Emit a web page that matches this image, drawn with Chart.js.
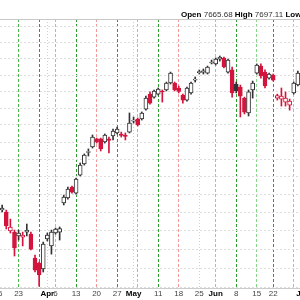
<!DOCTYPE html>
<html>
<head>
<meta charset="utf-8">
<script src="https://cdn.jsdelivr.net/npm/chart.js"></script>
<style>
  html, body { margin: 0; padding: 0; background: #fff; }
  #wrap { position: relative; width: 300px; height: 300px; overflow: hidden; }
  #box { position: absolute; left: -4px; top: 0; width: 308px; height: 300px; }
  #hdr { position: absolute; left: 181px; top: 10px; font: 8px/10px "Liberation Sans", Arial, sans-serif; color: #333; white-space: nowrap; }
  #hdr b { color: #000; }
</style>
</head>
<body>
<div id="wrap">
  <div id="box"><canvas id="chart"></canvas></div>
  <div id="hdr"><b>Open</b> 7665.68 <b>High</b> 7697.11 <b>Low</b></div>
</div>
<script>
// trading days shown (Mar 16 .. Jul 1)
const days = [
  'Mar 16', 'Mar 17', 'Mar 18', 'Mar 19', 'Mar 20',
  'Mar 23', 'Mar 24', 'Mar 25', 'Mar 26', 'Mar 27',
  'Mar 30', 'Mar 31', 'Apr 1', 'Apr 2',
  'Apr 6', 'Apr 7', 'Apr 8', 'Apr 9', 'Apr 10',
  'Apr 13', 'Apr 14', 'Apr 15', 'Apr 16', 'Apr 17',
  'Apr 20', 'Apr 21', 'Apr 22', 'Apr 23', 'Apr 24',
  'Apr 27', 'Apr 28', 'Apr 29', 'Apr 30', 'May 1',
  'May 4', 'May 5', 'May 6', 'May 7', 'May 8',
  'May 11', 'May 12', 'May 13', 'May 14', 'May 15',
  'May 18', 'May 19', 'May 20', 'May 21', 'May 22',
  'May 26', 'May 27', 'May 28', 'May 29',
  'Jun 1', 'Jun 2', 'Jun 3', 'Jun 4', 'Jun 5',
  'Jun 8', 'Jun 9', 'Jun 10', 'Jun 11', 'Jun 12',
  'Jun 15', 'Jun 16', 'Jun 17', 'Jun 18',
  'Jun 22', 'Jun 23', 'Jun 24', 'Jun 25', 'Jun 26',
  'Jun 29', 'Jun 30', 'Jul 1'
];

// text under the axis, one per day ('' = none)
const axisLabels = [
  '16', '', '', '', '',
  '23', '', '', '', '',
  '', '', 'Apr', '',
  '6', '', '', '', '',
  '13', '', '', '', '',
  '20', '', '', '', '',
  '27', '', '', '', 'May',
  '', '', '', '', '',
  '11', '', '', '', '',
  '18', '', '', '', '',
  '25', '', '', '',
  'Jun', '', '', '', '',
  '8', '', '', '', '',
  '15', '', '', '',
  '22', '', '', '', '',
  '', '', 'Jul'
];
const months = ['Apr', 'May', 'Jun', 'Jul'];

const open = [
  null, 7414, 7403, 7299, 7293,
  7272, 7266, 7293, 7282, 7153,
  7126, 7095, 7256, 7218,
  7288, 7293, 7453, 7481, 7542,
  7508, 7610, 7673, 7740, 7771,
  7818, 7818, 7800, 7818, 7835,
  7853, 7847, 7841, 7858, 7923,
  7935, 7935, 7994, 8084, 8066,
  8084, 8103, 8109, 8151, 8151,
  8121, 8078, 8048, 8091, 8169,
  8215, 8218, 8212, 8274,
  8268, 8298, 8305, 8218, 8231,
  8145, 8127, 8060, 7971, 8109,
  8212, 8255, 8218, 8181,
  8200, 8060, 8054, 8036, 8018,
  8091, 8139, null
];
const high = [
  null, 7442, 7414, 7364, 7304,
  7304, 7293, 7337, 7293, 7169,
  7132, 7239, 7288, 7304,
  7315, 7321, 7497, 7542, 7548,
  7593, 7679, 7731, 7760, 7841,
  7823, 7823, 7847, 7829, 7876,
  7888, 7858, 7853, 7971, 7947,
  7941, 7977, 8072, 8097, 8109,
  8121, 8109, 8157, 8218, 8157,
  8133, 8084, 8127, 8157, 8188,
  8231, 8237, 8255, 8292,
  8305, 8317, 8311, 8298, 8249,
  8157, 8139, 8066, 8109, 8163,
  8268, 8268, 8231, 8212,
  8206, 8084, 8121, 8097, 8054,
  8157, 8224, null
];
const low = [
  null, 7403, 7310, 7288, 7164,
  7250, 7218, 7272, 7196, 7079,
  7005, 7079, 7245, 7174,
  7282, 7250, 7442, 7475, 7508,
  7503, 7605, 7667, 7719, 7765,
  7794, 7748, 7794, 7737, 7812,
  7847, 7829, 7812, 7853, 7911,
  7894, 7929, 7988, 8024, 8060,
  8078, 8036, 8103, 8145, 8103,
  8091, 8030, 8042, 8084, 8157,
  8206, 8206, 8206, 8268,
  8261, 8286, 8243, 8212, 8066,
  8091, 7947, 7965, 7953, 8060,
  8206, 8181, 8121, 8175,
  8163, 8048, 8012, 8012, 7988,
  8084, 8133, null
];
const close = [
  null, 7425, 7326, 7321, 7207,
  7288, 7277, 7304, 7201, 7089,
  7063, 7228, 7277, 7293,
  7310, 7312, 7486, 7531, 7514,
  7588, 7667, 7725, 7745, 7829,
  7800, 7760, 7841, 7809, 7864,
  7876, 7838, 7832, 7911, 7929,
  7900, 7971, 8060, 8030, 8103,
  8115, 8097, 8151, 8212, 8109,
  8100, 8048, 8121, 8151, 8175,
  8221, 8225, 8249, 8280,
  8298, 8311, 8249, 8292, 8091,
  8103, 8072, 7976, 8097, 8151,
  8261, 8194, 8133, 8206,
  8169, 8075, 8072, 8060, 8042,
  8151, 8212, null
];

// horizontal price grid
const priceLines = [7000, 7100, 7200, 7300, 7400, 7500, 7600, 7700, 7800, 7900, 8000, 8100, 8200, 8300, 8400, 8500];

// coloured week separators (grey = month start)
const GREY = '#cfcfcf';
const weekLines = {
  'Mar 23': '#4cb84c', 'Mar 30': '#e23c3c', 'Apr 1': GREY, 'Apr 6': '#8ad68a',
  'Apr 13': '#2e9e2e', 'Apr 20': '#f59a9a', 'Apr 27': '#2e9e2e', 'May 1': GREY,
  'May 4': '#f59a9a', 'May 11': '#2e9e2e', 'May 18': '#f59a9a', 'May 26': GREY,
  'Jun 1': '#8ad68a', 'Jun 8': '#2e9e2e', 'Jun 15': '#8ad68a', 'Jun 22': '#e23c3c',
  'Jun 29': '#8ad68a'
};
const lineColors = days.map(d => weekLines[d] || 'rgba(255,255,255,0)');
const lineDash = days.map(d => (weekLines[d] === GREY ? [1, 2] : [3, 2]));

const RED = '#d3143c';
const INK = '#333333';

// black when close >= previous close, red otherwise; hollow when close >= open
const tone = close.map((c, i) => {
  if (c == null) return INK;
  const prev = i > 0 ? close[i - 1] : null;
  return (prev == null || c >= prev) ? INK : RED;
});
const fill = open.map((o, i) => (o == null ? INK : (close[i] >= o ? '#ffffff' : tone[i])));
const bodies = open.map((o, i) => (o == null ? null : [Math.min(o, close[i]), Math.max(o, close[i])]));
const wicks = low.map((l, i) => (l == null ? null : [l, high[i]]));

new Chart(document.getElementById('chart'), {
  type: 'bar',
  data: {
    labels: days,
    datasets: [
      {
        data: bodies,
        backgroundColor: fill,
        borderColor: tone,
        borderWidth: 1,
        borderSkipped: false,
        barThickness: 4,
        grouped: false
      },
      {
        data: wicks,
        backgroundColor: tone,
        borderWidth: 0,
        barThickness: 1,
        grouped: false
      }
    ]
  },
  options: {
    responsive: true,
    maintainAspectRatio: false,
    animation: false,
    layout: { padding: { top: 19, left: 0, right: 0, bottom: 0 } },
    plugins: { legend: { display: false }, tooltip: { enabled: false } },
    scales: {
      x: {
        offset: true,
        grid: {
          offset: false,
          drawTicks: false,
          lineWidth: 1,
          color: lineColors
        },
        border: { display: true, color: '#cccccc', dash: ctx => lineDash[ctx.index] || [] },
        ticks: {
          autoSkip: false,
          maxRotation: 0,
          padding: 1,
          callback: (v, i) => axisLabels[i],
          color: ctx => (months.includes(axisLabels[ctx.index]) ? '#000' : '#444'),
          font: ctx => ({
            family: '"Liberation Sans", Arial, sans-serif',
            size: 8,
            weight: months.includes(axisLabels[ctx.index]) ? 'bold' : 'normal'
          })
        },
        afterFit: s => {
          s.height = 12;
          s.paddingLeft = 0;
          s.paddingRight = 0;
        }
      },
      xTop: {
        type: 'category',
        position: 'top',
        labels: days,
        offset: true,
        grid: { display: false, drawTicks: false },
        ticks: { display: false },
        border: { display: true, color: '#c8c8c8' }
      },
      y: {
        type: 'logarithmic',
        min: 6995,
        max: 8550,
        afterBuildTicks: s => { s.ticks = priceLines.map(v => ({ value: v })); },
        ticks: { display: false },
        grid: { drawTicks: false, color: '#dddddd' },
        border: { display: false, dash: [2, 2] }
      }
    }
  }
});
</script>
</body>
</html>
